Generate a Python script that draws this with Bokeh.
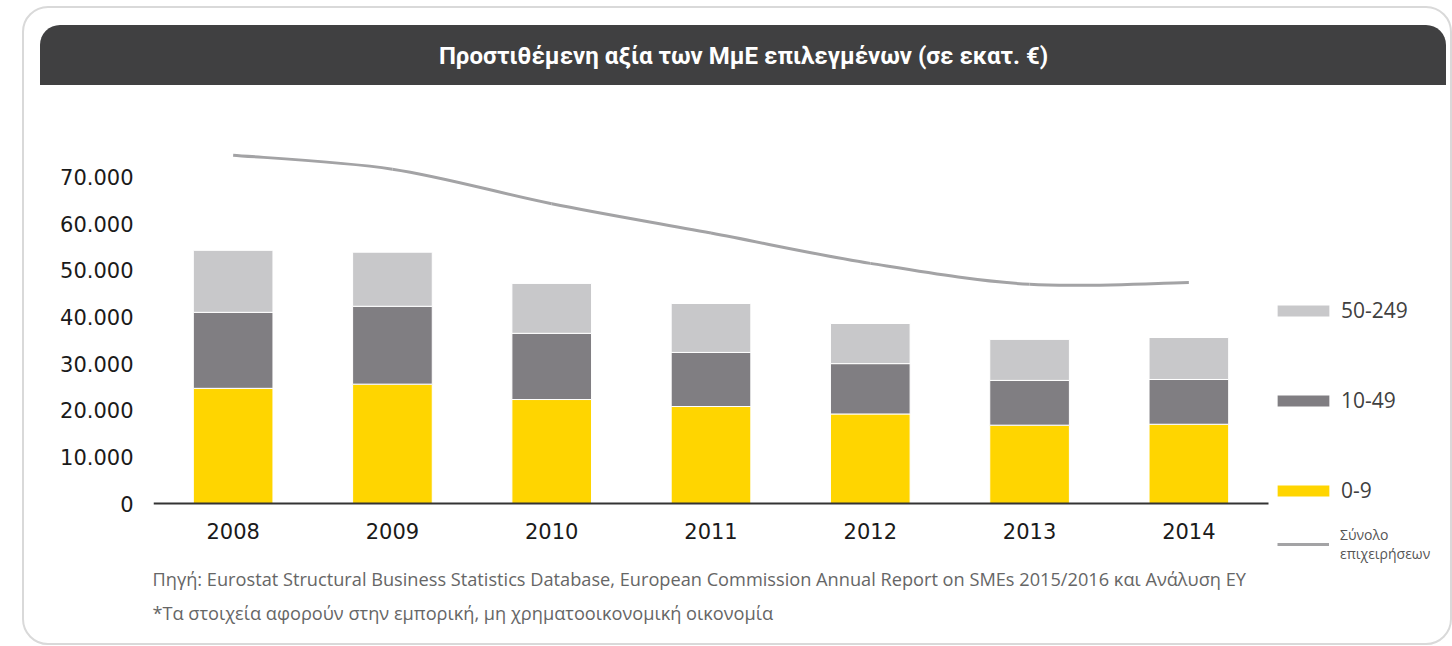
from bokeh.plotting import figure
from bokeh.models import (ColumnDataSource, FixedTicker, InlineStyleSheet,
                          Label, Legend, LegendItem, Range1d)
from bokeh.embed import file_html
from bokeh.resources import INLINE

# ---------------- data ----------------
years = ["2008", "2009", "2010", "2011", "2012", "2013", "2014"]
seg_0_9 = [24700, 25600, 22300, 20800, 19200, 16800, 17000]
seg_10_49 = [16300, 16700, 14200, 11600, 10800, 9600, 9600]
seg_50_249 = [13300, 11600, 10700, 10500, 8600, 8800, 9000]
total_enterprises = [74700, 71700, 64300, 58000, 51500, 47000, 47400]

y_ticks = [0, 10000, 20000, 30000, 40000, 50000, 60000, 70000]
y_tick_labels = ["0", "10.000", "20.000", "30.000", "40.000", "50.000", "60.000", "70.000"]
series_labels = ["0-9", "10-49", "50-249"]
line_label = "Σύνολο\nεπιχειρήσεων"
title_text = "Προστιθέμενη αξία των ΜμΕ επιλεγμένων (σε εκατ. €)"
source_note = ("Πηγή: Eurostat Structural Business Statistics Database, European Commission "
               "Annual Report on SMEs 2015/2016 και Ανάλυση EY")
star_note = "*Τα στοιχεία αφορούν στην εμπορική, μη χρηματοοικονομική οικονομία"

# ---------------- styles / layout ----------------
YELLOW = "#FFD500"
MID = "#807E82"
LIGHT = "#C8C8CA"
LINE = "#A3A3A5"
BAND = "#404041"

W, H = 1452, 646
FRAME_LEFT, FRAME_TOP, BOTTOM_BORDER = 153, 130, 50
AXIS_Y, AXIS_RIGHT = 503, 1268          # pixel row of value 0, right end of the category axis
Y_TOP = 80000
FRAME_BOTTOM = H - BOTTOM_BORDER

n = len(years)
xpos = [i + 0.5 for i in range(n)]      # category centres on a numeric scale
px_per_cat = (AXIS_RIGHT - FRAME_LEFT) / n
x_end = (W - FRAME_LEFT) / px_per_cat
val_per_px = Y_TOP / (AXIS_Y - FRAME_TOP)
y_start = -(FRAME_BOTTOM - AXIS_Y) * val_per_px

p = figure(width=W, height=H, x_range=Range1d(0, x_end), y_range=Range1d(y_start, Y_TOP),
           output_backend="svg", toolbar_location=None,
           min_border_left=FRAME_LEFT, min_border_right=0, min_border_top=FRAME_TOP,
           min_border_bottom=BOTTOM_BORDER, background_fill_color="white",
           border_fill_color="white", border_fill_alpha=0, outline_line_color=None)

# page decoration: dark title band and rounded light-grey frame
p.stylesheets = [InlineStyleSheet(css="""
:host::before {
  content: "";
  position: absolute;
  left: 40px; top: 25px; width: 1406px; height: 60px;
  background: %s;
  border-radius: 20px 20px 0 0;
  z-index: -1;
}
:host::after {
  content: "";
  position: absolute;
  left: 22px; top: 6px; width: 1430px; height: 639px;
  box-sizing: border-box;
  border: 2px solid #D9D9D9;
  border-radius: 26px;
  pointer-events: none;
}
""" % BAND)]

src = ColumnDataSource(dict(x=xpos, year=years, s0=seg_0_9, s1=seg_10_49, s2=seg_50_249))
bars = p.vbar_stack(["s0", "s1", "s2"], x="x", width=0.5, color=[YELLOW, MID, LIGHT],
                    line_color="white", line_width=1, source=src)

# smooth line through total values (Catmull-Rom -> cubic Bezier)
py = total_enterprises
bz = dict(x0=[], y0=[], x1=[], y1=[], cx0=[], cy0=[], cx1=[], cy1=[])
for i in range(n - 1):
    im, ip2 = max(i - 1, 0), min(i + 2, n - 1)
    bz["x0"].append(xpos[i]); bz["y0"].append(py[i])
    bz["x1"].append(xpos[i + 1]); bz["y1"].append(py[i + 1])
    bz["cx0"].append(xpos[i] + (xpos[i + 1] - xpos[im]) / 6)
    bz["cy0"].append(py[i] + (py[i + 1] - py[im]) / 6)
    bz["cx1"].append(xpos[i + 1] - (xpos[ip2] - xpos[i]) / 6)
    bz["cy1"].append(py[i + 1] - (py[ip2] - py[i]) / 6)
line_r = p.bezier(source=ColumnDataSource(bz), x0="x0", y0="y0", x1="x1", y1="y1",
                  cx0="cx0", cy0="cy0", cx1="cx1", cy1="cy1",
                  line_color=LINE, line_width=3)

# axes
p.xgrid.visible = False
p.ygrid.visible = False
ya = p.yaxis[0]
ya.ticker = FixedTicker(ticks=y_ticks)
ya.major_label_overrides = {t: s for t, s in zip(y_ticks, y_tick_labels)}
ya.axis_line_color = None
ya.major_tick_line_color = None
ya.minor_tick_line_color = None
ya.major_tick_out = 0
ya.major_label_standoff = 20
ya.major_label_text_font = "DejaVu Sans"
ya.major_label_text_font_size = "21px"
ya.major_label_text_color = "#1a1a1a"

xa = p.xaxis[0]
xa.ticker = FixedTicker(ticks=xpos)
xa.major_label_overrides = {x: y for x, y in zip(xpos, years)}
xa.bounds = (0, n)
xa.fixed_location = 0
xa.axis_line_color = "#333333"
xa.axis_line_width = 2
xa.major_tick_line_color = None
xa.minor_tick_line_color = None
xa.major_tick_out = 0
xa.major_label_standoff = 19
xa.major_label_text_font = "DejaVu Sans"
xa.major_label_text_font_size = "21px"
xa.major_label_text_color = "#1a1a1a"

# legends (inside the frame, right of the bars)
leg_bars = Legend(items=[LegendItem(label=series_labels[2], renderers=[bars[2]]),
                         LegendItem(label=series_labels[1], renderers=[bars[1]]),
                         LegendItem(label=series_labels[0], renderers=[bars[0]])],
                  location=(1117, 92), orientation="vertical", spacing=62,
                  glyph_width=66, glyph_height=15, label_standoff=5,
                  padding=0, margin=0, border_line_color=None, background_fill_alpha=0,
                  label_text_font="Open Sans", label_text_font_size="21px",
                  label_text_color="#404040")
leg_line = Legend(items=[LegendItem(label=line_label, renderers=[line_r])],
                  location=(1124, 33), glyph_width=52, glyph_height=12, label_standoff=11,
                  padding=0, margin=0, border_line_color=None, background_fill_alpha=0,
                  label_text_font="Open Sans", label_text_font_size="14px",
                  label_text_color="#555555", label_text_line_height=1.3)
p.add_layout(leg_bars)
p.add_layout(leg_line)

# title and footnotes (canvas units; kept in the top panel so they are never clipped)
p.add_layout(Label(x=743, y=55, x_units="canvas", y_units="canvas", text=title_text,
                   text_align="center", text_baseline="middle", text_color="white",
                   text_font="Roboto", text_font_style="bold", text_font_size="24px"), "above")
p.add_layout(Label(x=152, y=578, x_units="canvas", y_units="canvas", text=source_note,
                   text_align="left", text_baseline="middle", text_color="#666666",
                   text_font="Open Sans", text_font_size="18.2px"), "above")
p.add_layout(Label(x=152, y=612, x_units="canvas", y_units="canvas", text=star_note,
                   text_align="left", text_baseline="middle", text_color="#666666",
                   text_font="Open Sans", text_font_size="18.2px"), "above")

open("out.html", "w").write(file_html(p, INLINE))
